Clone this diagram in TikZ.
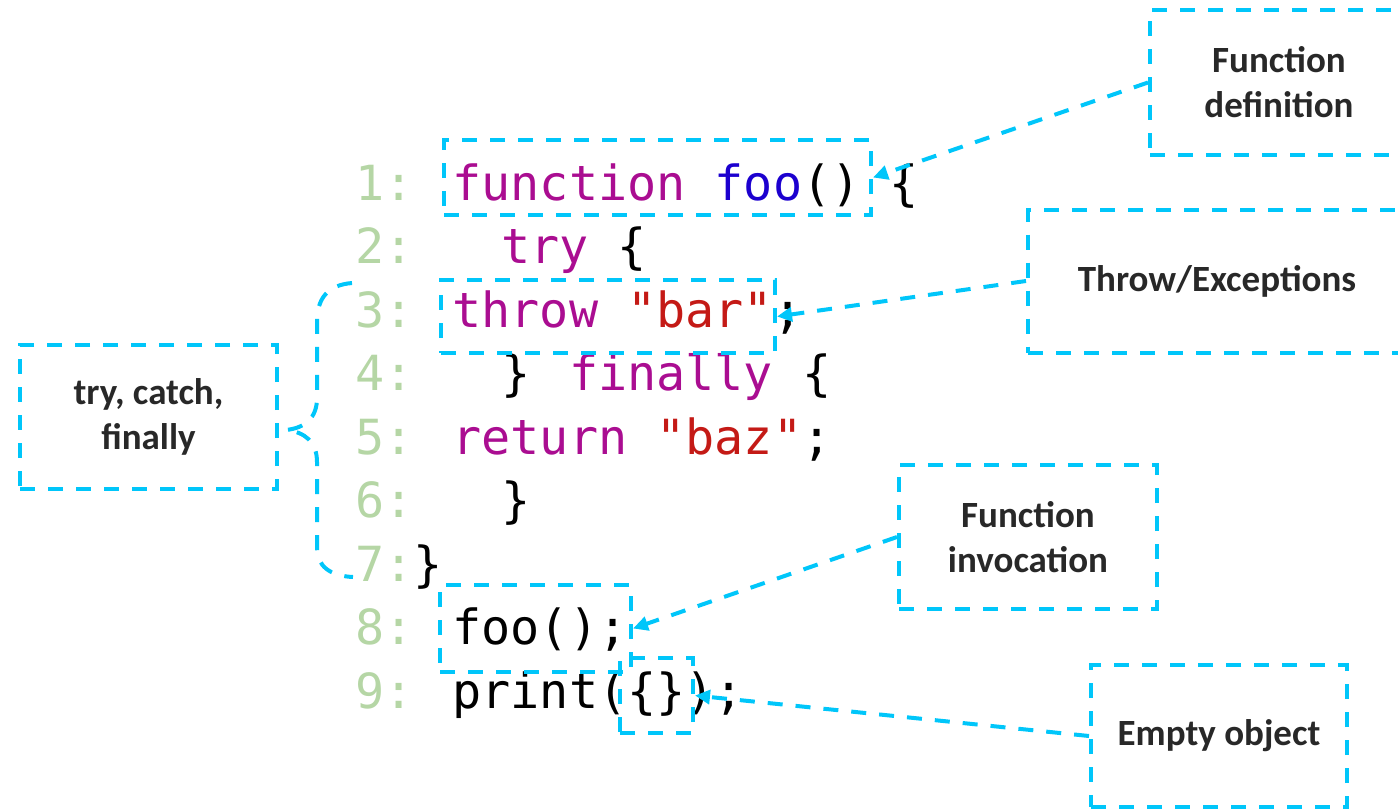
\documentclass[tikz,border=0pt]{standalone}
\usepackage{fontspec}
\setmainfont{Carlito}
\newfontfamily\codefont{DejaVu Sans Mono}
\usetikzlibrary{arrows.meta, fit, positioning}
\definecolor{LineGreen}{RGB}{181,214,165}
\definecolor{KeyPurple}{RGB}{170,13,145}
\definecolor{FunBlue}{RGB}{28,0,207}
\definecolor{StrRed}{RGB}{196,26,22}
\definecolor{HlCyan}{RGB}{0,198,250}
\definecolor{LabelGray}{RGB}{40,40,40}
\newcommand{\lnum}[1]{\textcolor{LineGreen}{#1}}
\newcommand{\kw}[1]{\textcolor{KeyPurple}{#1}}
\newcommand{\fname}[1]{\textcolor{FunBlue}{#1}}
\newcommand{\strlit}[1]{\textcolor{StrRed}{#1}}

\begin{document}
\begin{tikzpicture}[x=0.5pt, y=-0.5pt,
  code/.style={anchor=base west, inner sep=0pt, font=\codefont\fontsize{24.2}{28}\selectfont},
  dline/.style={draw=HlCyan, line width=2pt, dash pattern=on 7.5pt off 6.5pt},
  hl/.style={dline, inner sep=0pt},
  lbl/.style={hl, align=center, minimum width=129pt, minimum height=72pt, text=LabelGray, font=\bfseries\fontsize{18.5}{22.5}\selectfont},
  ptr/.style={dline, -{Triangle[length=7.5pt,width=7pt]}}]
\useasboundingbox (0,0) rectangle (1398,809);
\node[code] (l1) at (355,200) {\lnum{1:} \kw{function} \fname{foo}() \{};
\node[code] (l2) at (355,263.5) {\lnum{2:}\ \ \ \kw{try} \{};
\node[code] (l3) at (355,327) {\lnum{3:} \kw{throw} \strlit{"bar"};};
\node[code] (l4) at (355,390.5) {\lnum{4:}\ \ \ \} \kw{finally} \{};
\node[code] (l5) at (355,454) {\lnum{5:} \kw{return} \strlit{"baz"};};
\node[code] (l6) at (355,517.5) {\lnum{6:}\ \ \ \}};
\node[code] (l7) at (355,581) {\lnum{7:}\}};
\node[code] (l8) at (355,644.5) {\lnum{8:} foo();};
\node[code] (l9) at (355,708) {\lnum{9:} print(\{\});};

\node[hl, fit={(444,140) (871,215)}] (hdef) {};
\node[hl, fit={(441,280) (775,353)}] (hthrow) {};
\node[hl, fit={(440,585) (631,672)}] (hcall) {};
\node[hl, fit={(620,658) (693,733)}] (hobj) {};

\node[lbl, minimum height=72.5pt] (fdef) at (1279,82.5) {Function\\definition};
\node[lbl, minimum width=189pt, minimum height=71.5pt] (exc) at (1217,281) {Throw/Exceptions};
\node[lbl, minimum width=128.5pt] (tcf) at (148.5,417) {try, catch,\\finally};
\node[lbl] (finv) at (1028,537) {Function\\invocation};
\node[lbl, minimum width=128pt, minimum height=71pt] (eobj) at (1219,736) {Empty object};

\draw[ptr] (fdef.west) -- (hdef.east);
\draw[ptr] (exc.west) -- (hthrow.east);
\draw[ptr] (finv.west) -- (hcall.east);
\draw[ptr] (eobj.west) -- (hobj.east);

\coordinate (btop) at (352,283);
\coordinate (btip) at (286,430);
\coordinate (bbot) at (353,577);
\draw[dline] (btop) .. controls (328,285) and (317,298) .. (317,322) -- (317,398)
  .. controls (317,418) and (305,428) .. (btip)
  .. controls (305,432) and (317,442) .. (317,462) -- (317,548)
  .. controls (317,566) and (330,576) .. (bbot);
\end{tikzpicture}
\end{document}
